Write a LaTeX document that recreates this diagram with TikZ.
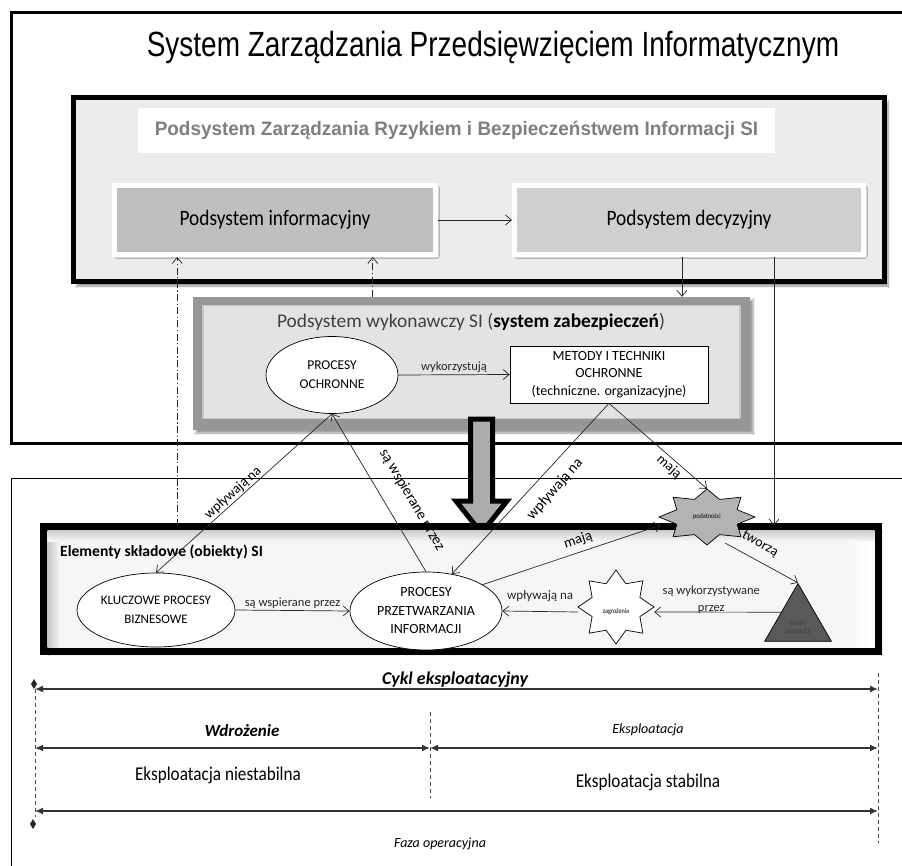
\documentclass[tikz,border=0pt]{standalone}
\usepackage{fontspec}
\setmainfont{Carlito}
\newfontfamily\titlefont[FakeStretch=0.80]{Liberation Sans}
\newfontfamily\subfont[FakeStretch=0.97]{Liberation Sans}
\newfontfamily\narrowfont[FakeStretch=0.88]{Carlito}
\usetikzlibrary{arrows.meta,shapes.geometric,shadows.blur,calc}

\definecolor{framefill}{HTML}{ECECEC}
\definecolor{infofill}{HTML}{BFBFBF}
\definecolor{decfill}{HTML}{CFCFCF}
\definecolor{subtitlegray}{HTML}{7F7F7F}
\definecolor{bevelgray}{HTML}{979797}
\definecolor{bevelin}{HTML}{E3E3E3}
\definecolor{podfill}{HTML}{B3B3B3}
\definecolor{trifill}{HTML}{595959}

% 8-pointed star: centre x, centre y, x radius, y radius, style
\newcommand{\drawstar}[5]{%
  \draw[#5] plot[samples at={0,22.5,...,337.5},variable=\t]
    ({#1+#3*(1-0.32*mod(round(\t/22.5),2))*sin(\t)},
     {#2-#4*(1-0.32*mod(round(\t/22.5),2))*cos(\t)}) -- cycle;}

\begin{document}
\begin{tikzpicture}[x=1pt,y=-1pt,
  arr/.style={-{Straight Barb[length=6pt,width=10pt]}, line width=0.7pt, black!85},
  ddarr/.style={arr, dash pattern=on 7pt off 2.5pt on 1.2pt off 2.5pt},
  lbl/.style={font=\fontsize{12.5}{13}\selectfont, inner sep=1pt},
  oval/.style={ellipse, draw, line width=0.7pt, fill=white, inner sep=0pt, align=center},
  subbox/.style={rectangle, draw=white, line width=5pt, inner sep=0pt,
    font=\narrowfont\fontsize{22}{24}\selectfont,
    blur shadow={shadow xshift=2pt, shadow yshift=-2pt, shadow blur steps=6, shadow opacity=45}},
  thickframe/.style={rectangle, draw=black, line width=5pt, inner sep=0pt,
    blur shadow={shadow xshift=4pt, shadow yshift=-4pt, shadow blur steps=8, shadow opacity=45}},
  tiny/.style={font=\narrowfont\fontsize{7}{8}\selectfont, inner sep=0pt, align=center},
  tlarr/.style={{Latex[length=8pt,width=7pt]}-{Latex[length=8pt,width=7pt]}, line width=1.5pt, black!80},
  guide/.style={dash pattern=on 4pt off 3pt, line width=0.5pt, black!70},
  tltext/.style={inner sep=0pt}
]
\useasboundingbox (0,0) rectangle (902,866);
\fill[white] (0,0) rectangle (902,866);

% ---------- management system (upper frame) ----------
\draw[line width=3pt] (903,13) -- (11,13) -- (11,443) -- (903,443);
\node[font=\titlefont\fontsize{35}{40}\selectfont, inner sep=0pt] (title) at (493,47)
  {System Zarządzania Przedsięwzięciem Informatycznym};

\node[thickframe, fill=framefill, minimum width=811pt, minimum height=184pt] (risk) at (478.5,190) {};
\node[fill=white, minimum width=637pt, minimum height=45pt, inner sep=0pt,
      font=\subfont\bfseries\fontsize{19.5}{22}\selectfont, text=subtitlegray] (risktitle) at (456.5,130.5)
  {Podsystem Zarządzania Ryzykiem i Bezpieczeństwem Informacji SI};

\node[subbox, fill=infofill, minimum width=321pt, minimum height=69pt] (inf) at (275,220) {Podsystem informacyjny};
\node[subbox, fill=decfill, minimum width=349pt, minimum height=69pt] (dec) at (689,220) {Podsystem decyzyjny};
\draw[arr] (inf.east) -- (dec.west);

% ---------- executive subsystem ----------
\node[rectangle, fill=bevelgray, minimum width=557pt, minimum height=133pt, inner sep=0pt,
  blur shadow={shadow xshift=3pt, shadow yshift=-3pt, shadow blur steps=6, shadow opacity=40}] (wyk) at (471.5,363.5) {};
\node[rectangle, fill=bevelin, draw=gray!45, line width=1.5pt, minimum width=537pt, minimum height=113pt] (wykin) at (471.5,362) {};
\node[font=\fontsize{19.4}{21}\selectfont, inner sep=0pt] (wyktitle) at (471,322)
  {\textcolor{black!75}{Podsystem wykonawczy SI (}\textbf{system zabezpieczeń}\textcolor{black!75}{)}};

\node[oval, minimum width=132pt, minimum height=77pt, font=\fontsize{13.5}{19}\selectfont] (och) at (332,375) {PROCESY\\OCHRONNE};
\node[rectangle, draw, line width=0.7pt, fill=white, minimum width=198pt, minimum height=57pt, inner sep=0pt,
  align=center, font=\fontsize{14}{17.5}\selectfont] (met) at (609,374.5)
  {METODY I TECHNIKI\\OCHRONNE\\(techniczne. organizacyjne)};
\draw[arr] (och.east) -- (met.west) node[lbl, midway, above=1pt] {wykorzystują};

% ---------- lower frame ----------
\draw[line width=0.8pt] (903,478) -- (11,478) -- (11,867);

% big transfer arrow
\draw[line width=5pt, fill=gray!65, line join=miter] (470.5,419) -- (492.5,419) -- (492.5,501) -- (507,501)
  -- (481.5,533) -- (456,501) -- (470.5,501) -- cycle;

% components of the information system
\node[thickframe, fill=gray!7, minimum width=832pt, minimum height=122pt] (el) at (461,589) {};
\shade[left color=gray!45, right color=gray!7] (47.5,530.5) rectangle (60,647.5);
\shade[top color=gray!40, bottom color=gray!7] (47.5,530.5) rectangle (874.5,541);
\shade[left color=gray!7, right color=white] (845,541) rectangle (874.5,647.5);
\draw[line width=5pt] (el.north west) rectangle (el.south east);
\node[anchor=west, font=\bfseries\fontsize{15.6}{17}\selectfont, inner sep=0pt] (eltitle) at (60,552)
  {Elementy składowe (obiekty) SI};

\node[oval, minimum width=158pt, minimum height=74pt, font=\fontsize{13}{19}\selectfont] (kl) at (156,610) {KLUCZOWE PROCESY\\BIZNESOWE};
\node[oval, minimum width=152pt, minimum height=78pt, font=\fontsize{14}{18.5}\selectfont] (prz) at (426,611) {PROCESY\\PRZETWARZANIA\\INFORMACJI};

% threats and vulnerabilities
\drawstar{616}{607}{38}{37}{line width=0.7pt, fill=white}
\node[ellipse, minimum width=76pt, minimum height=74pt, inner sep=0pt, tiny] (zag) at (616,612) {zagrożenia};
\drawstar{707}{517}{48}{28}{line width=0.7pt, fill=podfill}
\node[ellipse, minimum width=96pt, minimum height=56pt, inner sep=0pt, tiny] (pod) at (707,517) {podatności};
\node[regular polygon, regular polygon sides=3, minimum size=77pt, inner sep=0pt, draw, line width=0.7pt,
  fill=trifill] (tri) at (798,622) {};
\node[tiny, text=black!75] (tritext) at (798,627) {Ścieżki\\penetracji};

% ---------- relations ----------
\coordinate (i1) at ($(inf.south west)!0.2!(inf.south east)$);
\coordinate (i2) at ($(inf.south west)!0.8!(inf.south east)$);
\coordinate (d1) at ($(dec.south west)!0.48!(dec.south east)$);
\coordinate (d2) at ($(dec.south west)!0.74!(dec.south east)$);
\coordinate (trileft) at ($(tri.corner 1)!0.5!(tri.corner 2)$);

\draw[ddarr] (i1 |- el.north) -- (i1);
\draw[ddarr] (i2 |- wyk.north) -- (i2);
\draw[arr] (d1) -- (d1 |- wyk.north);
\draw[arr] (d2) -- (d2 |- el.north);

\draw[arr] (och.south) -- (kl.north);
\draw[arr] (prz.north) -- (och.south);
\draw[arr] (met.south) -- (prz.55);
\draw[arr] (met.south) -- (pod.north);
\draw[arr] (prz.25) -- (pod.190);
\draw[arr] (pod.-55) -- (tri.corner 1);
\draw[arr] (trileft) -- (zag.east)
  node[lbl, pos=0.55, yshift=12pt, align=center, font=\fontsize{12.5}{17}\selectfont] {są wykorzystywane\\przez};
\draw[arr] (zag.west) -- (prz.east)
  node[lbl, midway, above=8pt, font=\fontsize{13}{14}\selectfont] {wpływają na};
\draw[arr] (kl.east) -- (prz.west) node[lbl, midway, above=1pt] {są wspierane przez};

% labels written along the slanted relations
\node[lbl, rotate=42.3, font=\fontsize{14}{15}\selectfont] (l-och-kl) at (233,493) {wpływają na};
\node[lbl, rotate=-59.4, font=\fontsize{15}{16}\selectfont] (l-prz-och) at (412,500) {są wspierane przez};
\node[lbl, rotate=48.5, font=\fontsize{15}{16}\selectfont] (l-met-prz) at (555,489) {wpływają na};
\node[lbl, rotate=-42, font=\fontsize{14}{15}\selectfont] (l-met-pod) at (669,467) {mają};
\node[lbl, rotate=19, font=\fontsize{14.5}{15}\selectfont] (l-prz-pod) at (578,540) {mają};
\node[lbl, rotate=-29, font=\fontsize{14}{15}\selectfont] (l-pod-tri) at (760,544) {tworzą};

% ---------- life cycle time line ----------
\coordinate (tA) at (35,689);  \coordinate (tB) at (878,689);
\coordinate (tC) at (35,748);  \coordinate (tM) at (430,748);  \coordinate (tD) at (878,748);
\coordinate (tE) at (35,811);  \coordinate (tF) at (878,811);

\draw[guide] (35,682) -- (35,817);
\draw[guide] (878,673) -- (878,843);
\draw[guide] (430,712) -- (430,798);

\draw[tlarr] (tA) -- (tB);
\draw[tlarr] (tC) -- (tM);
\draw[tlarr] (tM) -- (tD);
\draw[tlarr] (tE) -- (tF);
\fill[black!85] (34,679) -- (37,684) -- (34,689) -- (31,684) -- cycle;
\fill[black!85] (33,819) -- (36,824) -- (33,829) -- (30,824) -- cycle;

\node[tltext, font=\bfseries\itshape\fontsize{18}{20}\selectfont] (cykl) at (455,680) {Cykl eksploatacyjny};
\node[tltext, font=\bfseries\itshape\fontsize{17}{19}\selectfont] (wdr) at (242,731) {Wdrożenie};
\node[tltext, font=\itshape\fontsize{14}{16}\selectfont] (eksp) at (648,730) {Eksploatacja};
\node[tltext, font=\narrowfont\fontsize{19.5}{22}\selectfont] (niest) at (218,775) {Eksploatacja niestabilna};
\node[tltext, font=\narrowfont\fontsize{19.5}{22}\selectfont] (stab) at (648,782) {Eksploatacja stabilna};
\node[tltext, font=\itshape\fontsize{14}{16}\selectfont] (faza) at (440,844) {Faza operacyjna};
\end{tikzpicture}
\end{document}
